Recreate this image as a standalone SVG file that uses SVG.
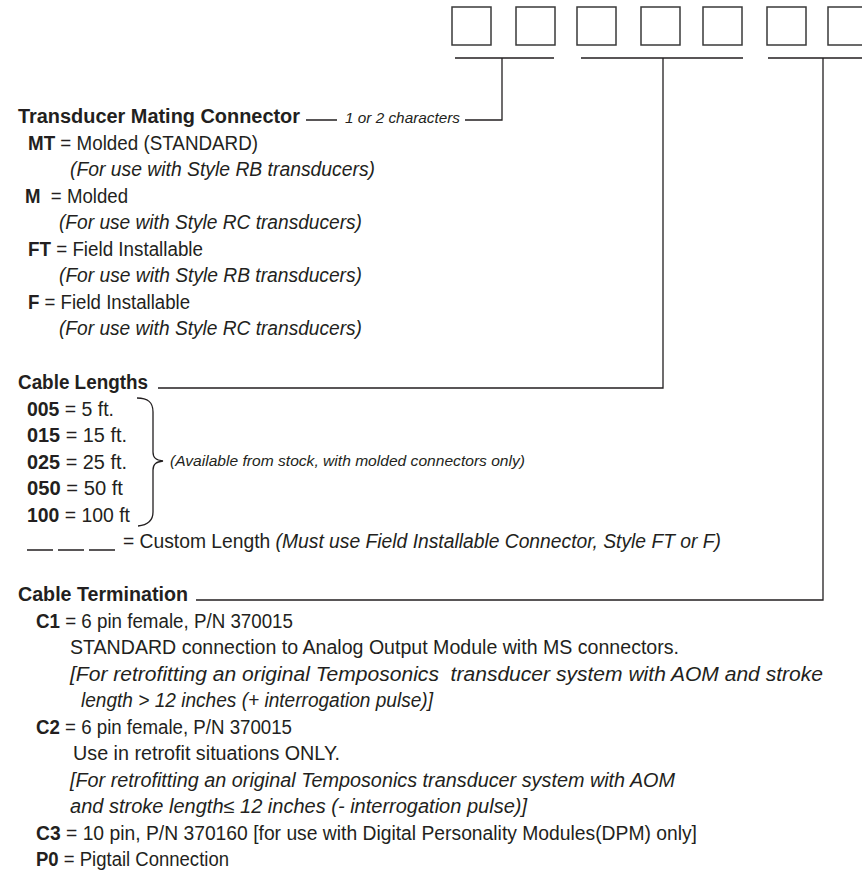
<svg xmlns="http://www.w3.org/2000/svg" width="862" height="875" viewBox="0 0 862 875">
<style>
text{font-family:"Liberation Sans",Arial,sans-serif;fill:#231f20;font-size:19.5px}
.b{font-weight:bold}
.i{font-style:italic}
.h{font-weight:bold}
.s{font-style:italic;font-size:15.4px}
.pre{white-space:pre}
.box{fill:#fff;stroke:#3a3a3a;stroke-width:1.5}
.ln{fill:none;stroke:#231f20;stroke-width:1.3}
</style>
<rect width="862" height="875" fill="#fff"/>
<g id="boxes">
<rect class="box" x="452" y="7" width="39" height="38"/>
<rect class="box" x="516" y="7" width="39" height="38"/>
<rect class="box" x="577" y="7" width="39" height="38"/>
<rect class="box" x="641" y="7" width="39" height="38"/>
<rect class="box" x="703" y="7" width="39" height="38"/>
<rect class="box" x="767" y="7" width="39" height="38"/>
<rect class="box" x="828" y="7" width="39" height="38"/>
</g>
<g id="connectors">
<path class="ln" d="M455,58 H554 M502,58 V120 H465 M306,120 H337"/>
<path class="ln" d="M581,58 H743 M663,58 V388 H158"/>
<path class="ln" d="M768,58 H870 M823,58 V600 H196"/>
<path class="ln" d="M137,398 C148,398 153,402 153,412 L153,452 C153,458 156,460 163,461 C156,462 153,464 153,470 L153,512 C153,521 148,525 138,526"/>
<path class="ln" d="M27,550 H53 M58,550 H84 M89,550 H115"/>
</g>
<g id="mating">
<text class="h" x="18" y="123" textLength="282" lengthAdjust="spacingAndGlyphs">Transducer Mating Connector</text>
<text class="s" x="345" y="123" textLength="115" lengthAdjust="spacingAndGlyphs">1 or 2 characters</text>
<text x="28" y="149.5" textLength="230" lengthAdjust="spacingAndGlyphs"><tspan class="b">MT</tspan> = Molded (STANDARD)</text>
<text class="i" x="70" y="176" textLength="305" lengthAdjust="spacingAndGlyphs">(For use with Style RB transducers)</text>
<text class="pre" x="25" y="202.5" textLength="103" lengthAdjust="spacingAndGlyphs"><tspan class="b">M</tspan>  = Molded</text>
<text class="i" x="59" y="229" textLength="303" lengthAdjust="spacingAndGlyphs">(For use with Style RC transducers)</text>
<text x="28" y="255.5" textLength="175" lengthAdjust="spacingAndGlyphs"><tspan class="b">FT</tspan> = Field Installable</text>
<text class="i" x="59" y="282" textLength="303" lengthAdjust="spacingAndGlyphs">(For use with Style RB transducers)</text>
<text x="28" y="308.5" textLength="162" lengthAdjust="spacingAndGlyphs"><tspan class="b">F</tspan> = Field Installable</text>
<text class="i" x="59" y="335" textLength="303" lengthAdjust="spacingAndGlyphs">(For use with Style RC transducers)</text>
</g>
<g id="lengths">
<text class="h" x="18" y="389" textLength="130" lengthAdjust="spacingAndGlyphs">Cable Lengths</text>
<text x="27" y="415.5" textLength="87" lengthAdjust="spacingAndGlyphs"><tspan class="b">005</tspan> = 5 ft.</text>
<text x="27" y="442" textLength="100" lengthAdjust="spacingAndGlyphs"><tspan class="b">015</tspan> = 15 ft.</text>
<text x="27" y="468.5" textLength="100" lengthAdjust="spacingAndGlyphs"><tspan class="b">025</tspan> = 25 ft.</text>
<text x="27" y="495" textLength="96" lengthAdjust="spacingAndGlyphs"><tspan class="b">050</tspan> = 50 ft</text>
<text x="27" y="521.5" textLength="103" lengthAdjust="spacingAndGlyphs"><tspan class="b">100</tspan> = 100 ft</text>
<text class="s" x="170" y="466" textLength="355" lengthAdjust="spacingAndGlyphs">(Available from stock, with molded connectors only)</text>
<text x="123" y="548" textLength="598" lengthAdjust="spacingAndGlyphs">= Custom Length <tspan class="i">(Must use Field Installable Connector, Style FT or F)</tspan></text>
</g>
<g id="termination">
<text class="h" x="18" y="601" textLength="170" lengthAdjust="spacingAndGlyphs">Cable Termination</text>
<text x="36" y="627.5" textLength="257" lengthAdjust="spacingAndGlyphs"><tspan class="b">C1</tspan> = 6 pin female, P/N 370015</text>
<text x="70" y="654" textLength="609" lengthAdjust="spacingAndGlyphs">STANDARD connection to Analog Output Module with MS connectors.</text>
<text class="i pre" x="70" y="680.5" textLength="753" lengthAdjust="spacingAndGlyphs">[For retrofitting an original Temposonics  transducer system with AOM and stroke</text>
<text class="i" x="81" y="707" textLength="352" lengthAdjust="spacingAndGlyphs">length &gt; 12 inches (+ interrogation pulse)]</text>
<text x="36" y="733.5" textLength="256" lengthAdjust="spacingAndGlyphs"><tspan class="b">C2</tspan> = 6 pin female, P/N 370015</text>
<text x="73" y="760" textLength="267" lengthAdjust="spacingAndGlyphs">Use in retrofit situations ONLY.</text>
<text class="i" x="70" y="786.5" textLength="605" lengthAdjust="spacingAndGlyphs">[For retrofitting an original Temposonics transducer system with AOM</text>
<text class="i" x="70" y="813" textLength="457" lengthAdjust="spacingAndGlyphs">and stroke length≤ 12 inches (- interrogation pulse)]</text>
<text x="36" y="839.5" textLength="661" lengthAdjust="spacingAndGlyphs"><tspan class="b">C3</tspan> = 10 pin, P/N 370160 [for use with Digital Personality Modules(DPM) only]</text>
<text x="36" y="866" textLength="193" lengthAdjust="spacingAndGlyphs"><tspan class="b">P0</tspan> = Pigtail Connection</text>
</g>
</svg>
